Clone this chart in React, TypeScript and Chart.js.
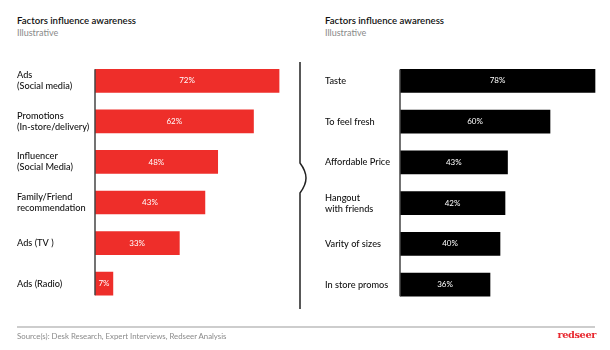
import React, { useEffect, useRef } from "react";
import { Chart, registerables } from "chart.js";
Chart.register(...registerables);

const leftCategories: (string | string[])[] = [
  ["Ads", "(Social media)"],
  ["Promotions", "(In-store/delivery)"],
  ["Influencer", "(Social Media)"],
  ["Family/Friend", "recommendation"],
  "Ads (TV )",
  "Ads (Radio)",
];
const leftValues = [72, 62, 48, 43, 33, 7];

const rightCategories: (string | string[])[] = [
  "Taste",
  "To feel fresh",
  "Affordable Price",
  ["Hangout", "with friends"],
  "Varity of sizes",
  "In store promos",
];
const rightValues = [78, 60, 43, 42, 40, 36];

const chartTitle = "Factors influence awareness";
const chartSubtitle = "Illustrative";
const sourceText = "Source(s): Desk Research, Expert Interviews, Redseer Analysis";
const brandText = "redseer";

const FONT = "Lato, 'Noto Sans', sans-serif";

const barPlugin = {
  id: "barDecor",
  afterDatasetsDraw(chart: any) {
    const ctx = chart.ctx;
    const meta = chart.getDatasetMeta(0);
    const data = chart.data.datasets[0].data as number[];
    const bars = meta.data;
    if (!bars.length) return;
    const first = bars[0];
    const last = bars[bars.length - 1];
    const x = chart.chartArea.left;
    ctx.save();
    ctx.strokeStyle = "#444";
    ctx.lineWidth = 1.5;
    ctx.beginPath();
    ctx.moveTo(x, first.y - first.height / 2);
    ctx.lineTo(x, last.y + last.height / 2);
    ctx.stroke();
    ctx.fillStyle = "#ffffff";
    ctx.font = `8px ${FONT}`;
    ctx.textAlign = "center";
    ctx.textBaseline = "middle";
    bars.forEach((bar: any, i: number) => {
      ctx.fillText(`${data[i]}%`, (bar.x + bar.base) / 2, bar.y);
    });
    ctx.restore();
  },
};

function makeChart(
  canvas: HTMLCanvasElement,
  labels: (string | string[])[],
  values: number[],
  color: string,
  padLeft: number,
  scaleWidth: number,
  padRight: number
) {
  return new Chart(canvas, {
    type: "bar",
    data: {
      labels,
      datasets: [
        {
          data: values,
          backgroundColor: color,
          borderWidth: 0,
          barThickness: 23,
        },
      ],
    },
    options: {
      indexAxis: "y",
      responsive: false,
      animation: false,
      layout: { padding: { left: padLeft, right: padRight, top: 4, bottom: 10 } },
      plugins: { legend: { display: false }, tooltip: { enabled: false } },
      scales: {
        x: { display: false, min: 0, max: 80 },
        y: {
          grid: { display: false },
          border: { display: false },
          afterFit(scale: any) {
            scale.width = scaleWidth;
          },
          ticks: {
            crossAlign: "far",
            padding: 0,
            color: "#111",
            font: { family: FONT, size: 9.2, weight: "500" },
          },
        },
      },
    },
    plugins: [barPlugin],
  } as any);
}

export default function App() {
  const leftRef = useRef<HTMLCanvasElement>(null);
  const rightRef = useRef<HTMLCanvasElement>(null);

  useEffect(() => {
    const a = makeChart(leftRef.current!, leftCategories, leftValues, "#EE2E2A", 17, 78, 5.5);
    const b = makeChart(rightRef.current!, rightCategories, rightValues, "#000000", 20, 75, 10);
    return () => {
      a.destroy();
      b.destroy();
    };
  }, []);

  const titleStyle: React.CSSProperties = {
    position: "absolute",
    top: 14,
    fontFamily: FONT,
    fontSize: 9.6,
    lineHeight: "13px",
    fontWeight: 600,
    color: "#111",
    whiteSpace: "nowrap",
  };
  const subStyle: React.CSSProperties = {
    position: "absolute",
    top: 27,
    fontFamily: FONT,
    fontSize: 9,
    lineHeight: "12px",
    color: "#8a8a8a",
    whiteSpace: "nowrap",
  };

  return (
    <div
      style={{
        position: "absolute",
        left: 0,
        top: 0,
        width: 610,
        height: 350,
        background: "#fff",
        overflow: "hidden",
      }}
    >
      <div style={{ ...titleStyle, left: 17 }}>{chartTitle}</div>
      <div style={{ ...subStyle, left: 17 }}>{chartSubtitle}</div>
      <div style={{ ...titleStyle, left: 325 }}>{chartTitle}</div>
      <div style={{ ...subStyle, left: 325 }}>{chartSubtitle}</div>

      <canvas
        ref={leftRef}
        width={305}
        height={260}
        style={{ position: "absolute", left: 0, top: 55, width: 305, height: 260 }}
      />
      <canvas
        ref={rightRef}
        width={305}
        height={260}
        style={{ position: "absolute", left: 305, top: 55, width: 305, height: 260 }}
      />

      <svg
        width={610}
        height={350}
        style={{ position: "absolute", left: 0, top: 0, pointerEvents: "none" }}
      >
        <path
          d="M300 62 L300 163 Q306 171 306 178 Q306 185 300 193 L300 309"
          fill="none"
          stroke="#222"
          strokeWidth={1.5}
        />
        <line x1={17} y1={327} x2={595} y2={327} stroke="#bdbdbd" strokeWidth={1.5} />
      </svg>

      <div
        style={{
          position: "absolute",
          left: 17,
          top: 331,
          fontFamily: FONT,
          fontSize: 7.8,
          lineHeight: "11px",
          color: "#8a8a8a",
          whiteSpace: "nowrap",
        }}
      >
        {sourceText}
      </div>
      <div
        style={{
          position: "absolute",
          right: 14,
          top: 329,
          fontFamily: "'DejaVu Serif', 'Liberation Serif', serif",
          fontSize: 9.8,
          lineHeight: "12px",
          fontWeight: 700,
          color: "#E8272E",
          letterSpacing: -0.4,
          whiteSpace: "nowrap",
        }}
      >
        {brandText}
      </div>
    </div>
  );
}
